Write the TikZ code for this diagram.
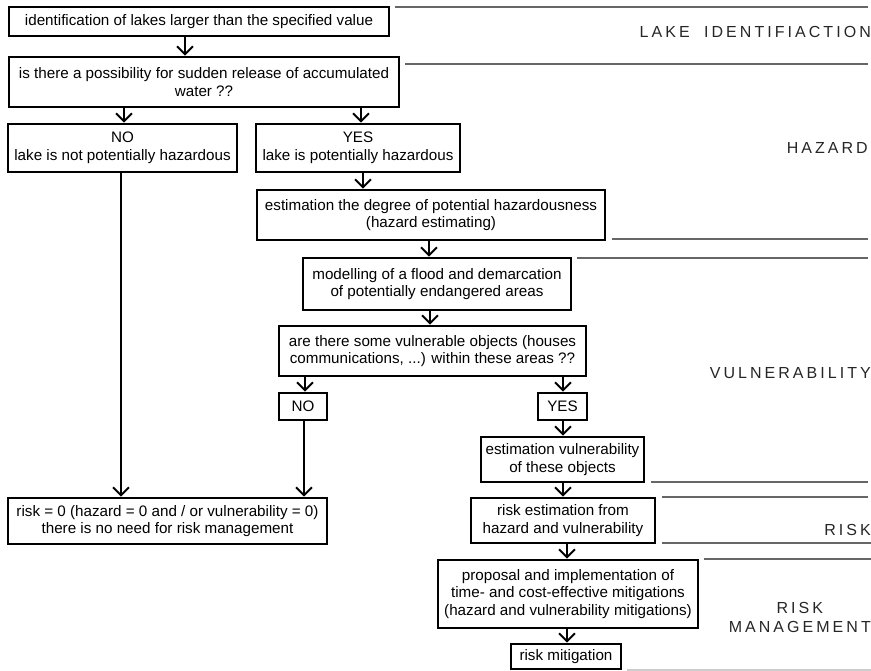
\documentclass[tikz,border=0pt]{standalone}
\usepackage{fontspec}
\setmainfont{Liberation Sans}
\newfontfamily\labfont[LetterSpace=19]{Liberation Sans}
\usetikzlibrary{arrows.meta}
\begin{document}
\begin{tikzpicture}[x=1pt,y=-1pt,
 box/.style={draw, line width=2.6pt, inner sep=0pt, align=center, font=\fontsize{15.2}{17.5}\selectfont},
 arr/.style={line width=2pt, -{Straight Barb[length=8pt,width=16pt]}},
 sep/.style={draw=black!60, line width=1.2pt},
 lab/.style={font=\labfont\fontsize{16}{19}\selectfont, text=black!85, inner sep=0pt, align=center}]
\useasboundingbox (0,0) rectangle (871,671);

% boxes
\node[box, minimum width=380pt, minimum height=29pt] (b1) at (199,21.5) {identification of lakes larger than the specified value};
\node[box, minimum width=390pt, minimum height=50pt] (b2) at (204,82) {is there a possibility for sudden release of accumulated\\water ??};
\node[box, minimum width=229pt, minimum height=48pt] (bno) at (122.5,148) {NO\\lake is not potentially hazardous};
\node[box, minimum width=204pt, minimum height=48pt] (byes) at (358,148) {YES\\lake is potentially hazardous};
\node[box, minimum width=348pt, minimum height=50pt] (best) at (431,215) {estimation the degree of potential hazardousness\\(hazard estimating)};
\node[box, minimum width=268pt, minimum height=52pt] (bmod) at (437,284) {modelling of a flood and demarcation\\of potentially endangered areas};
\node[box, minimum width=307pt, minimum height=50pt] (bq) at (432.5,351) {are there some vulnerable objects (houses\\communications, ...) within these areas ??};
\node[box, minimum width=48pt, minimum height=27pt] (bno2) at (303,406.5) {NO};
\node[box, minimum width=49pt, minimum height=27pt] (byes2) at (562.5,406.5) {YES};
\node[box, minimum width=163pt, minimum height=45pt] (bev) at (562.5,459.5) {estimation vulnerability\\of these objects};
\node[box, minimum width=319pt, minimum height=46pt] (brisk0) at (167.5,521) {risk = 0 (hazard = 0 and / or vulnerability = 0)\\there is no need for risk management};
\node[box, minimum width=184pt, minimum height=45pt] (bre) at (563,520.5) {risk estimation from\\hazard and vulnerability};
\node[box, minimum width=260pt, minimum height=68pt] (bprop) at (568,594) {proposal and implementation of\\time- and cost-effective mitigations\\(hazard and vulnerability mitigations)};
\node[box, minimum width=110pt, minimum height=25pt] (bmit) at (566,656.5) {risk mitigation};

% arrow x positions
\coordinate (x1) at (185,0);
\coordinate (x2) at (124,0);
\coordinate (x3) at (361,0);
\coordinate (x4) at (363,0);
\coordinate (x5) at (429,0);
\coordinate (x6) at (430,0);
\coordinate (x7) at (305,0);
\coordinate (x8) at (563,0);
\coordinate (x9) at (121,0);
\coordinate (x10) at (304,0);
\coordinate (x11) at (567,0);

\draw[arr] (b1.south -| x1) -- (b2.north -| x1);
\draw[arr] (b2.south -| x2) -- (bno.north -| x2);
\draw[arr] (b2.south -| x3) -- (byes.north -| x3);
\draw[arr] (byes.south -| x4) -- (best.north -| x4);
\draw[arr] (best.south -| x5) -- (bmod.north -| x5);
\draw[arr] (bmod.south -| x6) -- (bq.north -| x6);
\draw[arr] (bq.south -| x7) -- (bno2.north -| x7);
\draw[arr] (bq.south -| x8) -- (byes2.north -| x8);
\draw[arr] (byes2.south -| x8) -- (bev.north -| x8);
\draw[arr] (bno.south -| x9) -- (brisk0.north -| x9);
\draw[arr] (bno2.south -| x10) -- (brisk0.north -| x10);
\draw[arr] (bev.south -| x8) -- (bre.north -| x8);
\draw[arr] (bre.south -| x11) -- (bprop.north -| x11);
\draw[arr] (bprop.south -| x11) -- (bmit.north -| x11);

% separators
\draw[sep] (395,7) -- (868,7);
\draw[sep] (405,64) -- (868,64);
\draw[sep] (612,239) -- (868,239);
\draw[sep] (577,258) -- (868,258);
\draw[sep] (651,482) -- (868,482);
\draw[sep] (662,497) -- (868,497);
\draw[sep] (662,543) -- (871,543);
\draw[sep] (704,559) -- (871,559);
\draw[sep, draw=black!20] (627,670) -- (871,670);

% labels
\node[lab, anchor=east] (l1) at (871,32) {LAKE\hspace{7pt} IDENTIFIACTION};
\node[lab, anchor=east] (l2) at (868,148) {HAZARD};
\node[lab, anchor=east] (l3) at (871,373) {VULNERABILITY};
\node[lab, anchor=east] (l4) at (871,530) {RISK};
\node[lab, anchor=east] (l5) at (871,617.5) {RISK\\MANAGEMENT};
\end{tikzpicture}
\end{document}
